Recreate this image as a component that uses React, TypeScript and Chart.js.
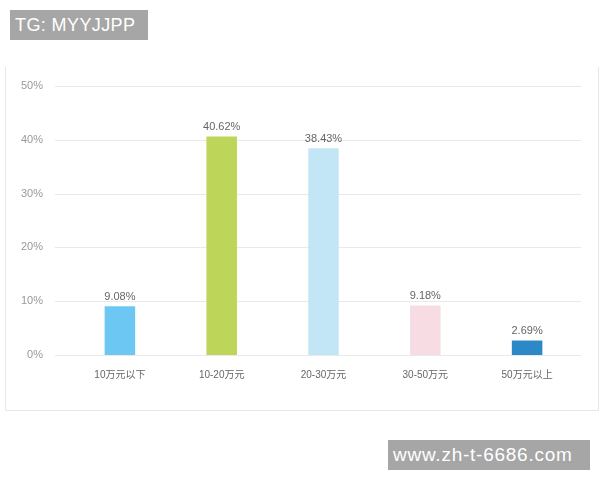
import React, { useEffect, useRef } from "react";
import { Chart, registerables } from "chart.js";

Chart.register(...registerables);

const categories = ["10万元以下", "10-20万元", "20-30万元", "30-50万元", "50万元以上"];
const values = [9.08, 40.62, 38.43, 9.18, 2.69];
const valueLabels = ["9.08%", "40.62%", "38.43%", "9.18%", "2.69%"];
const barColors = ["#6cc8f2", "#bdd65a", "#c3e6f7", "#f8dce3", "#2d88c8"];
const yTicks = [0, 10, 20, 30, 40, 50];

const FONT = '"Liberation Sans", "Noto Sans CJK SC", sans-serif';

const gridPlugin = {
  id: "customGrid",
  beforeDatasetsDraw(chart: any) {
    const { ctx, chartArea, scales } = chart;
    const y = scales.y;
    ctx.save();
    ctx.strokeStyle = "#e9e9e9";
    ctx.lineWidth = 1;
    yTicks.forEach((t) => {
      const py = Math.round(y.getPixelForValue(t)) + 0.5;
      ctx.beginPath();
      ctx.moveTo(chartArea.left - 14, py);
      ctx.lineTo(chartArea.right + 3, py);
      ctx.stroke();
    });
    ctx.restore();
  },
};

const labelPlugin = {
  id: "valueLabels",
  afterDatasetsDraw(chart: any) {
    const { ctx } = chart;
    const meta = chart.getDatasetMeta(0);
    ctx.save();
    ctx.fillStyle = "#666";
    ctx.font = `11px ${FONT}`;
    ctx.textAlign = "center";
    ctx.textBaseline = "bottom";
    meta.data.forEach((bar: any, i: number) => {
      ctx.fillText(valueLabels[i], bar.x, bar.y - 4);
    });
    ctx.restore();
  },
};

const framePlugin = {
  id: "frame",
  beforeDraw(chart: any) {
    const { ctx } = chart;
    ctx.save();
    ctx.strokeStyle = "#e6e6e6";
    ctx.lineWidth = 1;
    ctx.beginPath();
    ctx.moveTo(5.5, 67);
    ctx.lineTo(5.5, 410.5);
    ctx.lineTo(598.5, 410.5);
    ctx.lineTo(598.5, 67);
    ctx.stroke();
    ctx.restore();
  },
};

export default function App() {
  const ref = useRef<HTMLCanvasElement | null>(null);
  useEffect(() => {
    if (!ref.current) return;
    const chart = new Chart(ref.current, {
      type: "bar",
      data: {
        labels: categories,
        datasets: [
          {
            data: values,
            backgroundColor: barColors,
            borderWidth: 0,
            barPercentage: 0.3,
            categoryPercentage: 1,
          },
        ],
      },
      options: {
        responsive: false,
        animation: false,
        layout: { padding: { left: 0, right: 22, top: 86, bottom: 0 } },
        plugins: { legend: { display: false }, tooltip: { enabled: false } },
        scales: {
          x: {
            grid: { display: false, drawTicks: false },
            border: { display: false },
            ticks: { color: "#666", font: { size: 10, family: FONT }, padding: 14, maxRotation: 0 },
            afterFit: (s: any) => {
              s.height = 125;
            },
          },
          y: {
            min: 0,
            max: 50,
            grid: { display: false, drawTicks: false },
            border: { display: false },
            ticks: {
              stepSize: 10,
              color: "#999",
              font: { size: 11, family: FONT },
              padding: 26,
              callback: (v: any) => `${v}%`,
            },
            afterFit: (s: any) => {
              s.width = 69;
            },
          },
        },
      },
      plugins: [framePlugin, gridPlugin, labelPlugin],
    });
    return () => chart.destroy();
  }, []);

  const box: React.CSSProperties = {
    position: "absolute",
    background: "#a6a6a6",
    color: "#fff",
    fontFamily: FONT,
    whiteSpace: "nowrap",
    boxSizing: "border-box",
    overflow: "hidden",
  };

  return (
    <div style={{ position: "fixed", left: 0, top: 0, width: 600, height: 480, background: "#fff" }}>
      <canvas ref={ref} width={600} height={480} style={{ position: "absolute", left: 0, top: 0 }} />
      <div style={{ ...box, left: 10, top: 10, width: 138, height: 30, fontSize: 18, lineHeight: "30px", paddingLeft: 5, letterSpacing: "0.4px" }}>
        TG: MYYJJPP
      </div>
      <div style={{ ...box, left: 388, top: 440, width: 202, height: 30, fontSize: 19, lineHeight: "30px", paddingLeft: 5, letterSpacing: "0.75px" }}>
        www.zh-t-6686.com
      </div>
    </div>
  );
}
